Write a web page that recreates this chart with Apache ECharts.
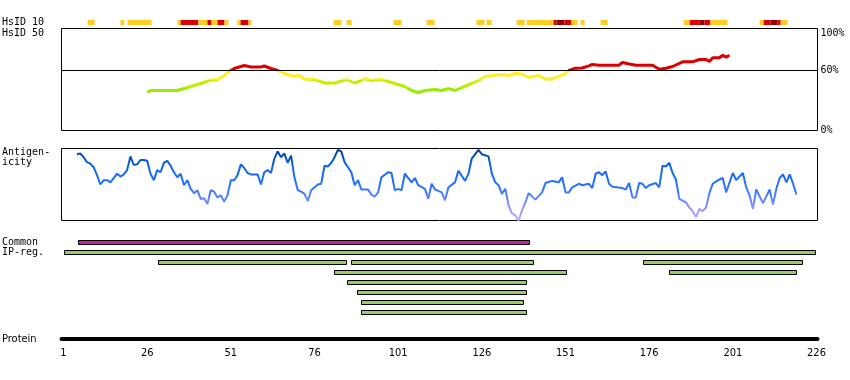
<!DOCTYPE html>
<html><head><meta charset="utf-8">
<script src="https://cdn.jsdelivr.net/npm/echarts@6/dist/echarts.min.js"></script>
<style>html,body{margin:0;padding:0;background:#fff}#c{width:850px;height:380px}</style>
</head><body><div id="c"></div>
<script>
// ---- data ----
const residueTicks = [1, 26, 51, 76, 101, 126, 151, 176, 201, 226];
const pctTicks = [0, 60, 100];

// HsID 10 band: segment start, end (residue), level (1 = >=10%, 2 = high, 3 = highest)
const hsid10Start = [8.2, 18.0, 20.1, 35.1, 36.0, 41.3, 44.0, 45.2, 47.0, 49.1, 53.0, 53.9, 56.3, 81.7, 85.6, 99.6, 109.5, 124.4, 127.4, 136.4, 139.4, 147.4, 148.3, 150.7, 152.8, 155.5, 161.5, 186.3, 188.1, 191.0, 192.5, 194.3, 209.0, 210.2, 212.3, 214.4, 215.3];
const hsid10End   = [10.3, 19.2, 27.3, 36.0, 41.3, 44.0, 45.2, 47.0, 49.1, 50.3, 53.9, 56.3, 57.2, 84.1, 87.1, 102.0, 111.9, 126.8, 128.9, 138.8, 147.4, 148.3, 150.7, 152.8, 154.6, 156.7, 163.6, 188.1, 191.0, 192.5, 194.3, 199.4, 210.2, 212.3, 214.4, 215.3, 217.3];
const hsid10Level = [1, 1, 1, 1, 2, 1, 2, 1, 2, 1, 1, 2, 1, 1, 1, 1, 1, 1, 1, 1, 1, 2, 3, 2, 1, 1, 1, 1, 2, 3, 2, 1, 1, 2, 3, 2, 1];

// HsID 50 curve (%)
const hsid50Pos = [26, 27, 30, 33, 35, 36, 38, 40, 41, 43, 45, 47, 48, 49, 50, 51, 52, 53, 55, 57, 60, 61, 63, 64, 65, 67, 70, 71, 73, 76, 77, 79, 82, 85, 86, 88, 90, 91, 93, 96, 98, 100, 103, 105, 107, 109, 112, 114, 116, 118, 120, 123, 125, 127, 129, 132, 134, 136, 138, 140, 143, 145, 147, 149, 151, 152, 154, 156, 158, 159, 161, 164, 167, 168, 170, 172, 175, 177, 179, 181, 183, 186, 189, 191, 193, 194, 195, 197, 198, 199, 200];
const hsid50Val = [38, 40, 40, 40, 40, 41, 43, 45, 46, 48, 50.5, 51, 53, 55, 58, 60, 62, 63, 65, 63.5, 63.5, 64.5, 62, 61, 60, 57, 54, 55.5, 51.5, 51, 50, 47.5, 47.5, 50.5, 50.5, 47.5, 50, 52, 50, 51, 49, 47, 44, 40, 38, 40, 41, 40, 42, 40, 43, 47, 50, 54, 55, 56, 55, 57, 56.5, 53, 55, 51.5, 51.5, 54, 57, 60, 62.3, 62.5, 64.7, 66, 65.3, 65.3, 65.3, 68, 66.5, 65.3, 65.3, 65.3, 61.3, 62.3, 64, 68.7, 68.7, 71, 71, 69, 72.7, 72.7, 75.3, 73.3, 75.3];

// Antigenicity (relative score 0-100)
const antiPos = [5, 6, 7, 8, 9, 10, 11, 12, 13, 14, 15, 16, 17, 18, 19, 20, 21, 22, 23, 24, 25, 26, 27, 28, 29, 30, 31, 32, 33, 34, 35, 36, 37, 38, 39, 40, 41, 42, 43, 44, 45, 46, 47, 48, 49, 50, 51, 52, 53, 54, 55, 56, 57, 59, 60, 61, 62, 63, 64, 65, 66, 67, 68, 69, 70, 71, 72, 73, 74, 75, 77, 78, 79, 80, 81, 82, 83, 84, 85, 87, 88, 89, 90, 92, 93, 94, 95, 96, 98, 99, 100, 101, 102, 103, 105, 106, 107, 109, 110, 111, 112, 114, 115, 116, 118, 119, 121, 122, 123, 125, 126, 128, 129, 130, 131, 132, 133, 134, 135, 136, 137, 138, 139, 140, 142, 144, 145, 147, 149, 150, 151, 152, 153, 155, 156, 158, 159, 160, 161, 162, 163, 164, 165, 168, 169, 170, 171, 172, 173, 174, 175, 176, 178, 179, 180, 181, 182, 183, 184, 185, 187, 188, 189, 190, 191, 192, 193, 194, 195, 197, 198, 199, 201, 202, 204, 205, 206, 207, 208, 210, 212, 213, 214, 215, 216, 217, 218, 219, 220];
const antiVal = [92, 93, 88, 81, 79, 74, 63, 50, 56, 56, 53, 59, 65, 61, 64, 70, 89, 77, 78, 84, 84, 83, 65, 56, 70, 67, 80, 83, 76, 67, 60, 65, 49, 56, 44, 38, 42, 30, 31, 23, 42, 40, 32, 35, 26, 35, 56, 56, 63, 78, 73, 66, 64, 64, 50, 67, 70, 66, 86, 96, 88, 93, 80, 90, 60, 42, 40, 37, 27, 42, 50, 51, 76, 75, 80, 88, 98, 96, 81, 67, 49, 56, 43, 43, 36, 33, 39, 60, 67, 66, 42, 44, 42, 65, 53, 59, 49, 44, 30, 51, 43, 39, 28, 46, 53, 69, 55, 65, 86, 98, 92, 89, 65, 53, 49, 37, 44, 21, 10, 7, 0, 14, 25, 38, 29, 39, 52, 55, 53, 60, 39, 39, 46, 51, 49, 51, 45, 65, 67, 63, 68, 51, 47, 45, 43, 52, 32, 32, 52, 51, 45, 49, 52, 46, 76, 75, 80, 66, 57, 30, 25, 18, 13, 5, 16, 13, 18, 38, 51, 57, 59, 39, 66, 56, 66, 46, 35, 16, 43, 24, 43, 22, 44, 59, 64, 53, 64, 51, 36];

// Regions: row 0 = Common, rows 1.. = IP-reg.
const regionRow   = [0, 1, 2, 2, 2, 3, 3, 4, 5, 6, 7];
const regionStart = [5.3, 1, 29.2, 86.8, 174.3, 81.8, 181.8, 85.6, 88.6, 89.8, 89.8];
const regionEnd   = [140.5, 226, 85.8, 141.7, 222.1, 151.3, 220.3, 139.6, 139.6, 138.5, 139.6];
const regionKind  = ['common', 'ip', 'ip', 'ip', 'ip', 'ip', 'ip', 'ip', 'ip', 'ip', 'ip'];

// ---- chart ----
const X_MIN = 0.4, X_MAX = 226.3;
const LEFT = 61.5, WIDTH = 756;
const mono = '"DejaVu Sans Mono", monospace';
const narrow = '"Liberation Sans Narrow", "DejaVu Sans Condensed", sans-serif';
const hsidColors = {1: '#ffcc22', 2: '#dd0000', 3: '#990000'};
const regionColors = {common: '#cc2299', ip: '#99cc66'};

function xAxisHidden(gi) {
  return {type: 'value', gridIndex: gi, min: X_MIN, max: X_MAX, show: false};
}

const chart = echarts.init(document.getElementById('c'), null, {renderer: 'canvas'});
chart.setOption({
  animation: false,
  backgroundColor: '#fff',
  grid: [
    {left: LEFT, width: WIDTH, top: 20, height: 5, show: false},
    {left: LEFT, width: WIDTH, top: 28.5, height: 102, show: true, borderColor: '#000', borderWidth: 1, backgroundColor: 'transparent'},
    {left: LEFT, width: WIDTH, top: 148.5, height: 72, show: true, borderColor: '#000', borderWidth: 1, backgroundColor: 'transparent'},
    {left: LEFT, width: WIDTH, top: 237.5, height: 80, show: false},
    {left: LEFT, width: WIDTH, top: 290, height: 49, show: false}
  ],
  xAxis: [
    xAxisHidden(0), xAxisHidden(1), xAxisHidden(2), xAxisHidden(3),
    {type: 'value', gridIndex: 4, min: X_MIN, max: X_MAX, position: 'bottom',
     axisLine: {show: true, lineStyle: {color: '#000', width: 4}},
     axisTick: {show: false}, splitLine: {show: false},
     axisLabel: {show: true, customValues: residueTicks, color: '#000', fontFamily: narrow, fontSize: 11, margin: 9,
                 formatter: v => String(v)}}
  ],
  yAxis: [
    {type: 'value', gridIndex: 0, min: 0, max: 1, show: false},
    {type: 'value', gridIndex: 1, min: 0, max: 102, position: 'right',
     axisLine: {show: false}, axisTick: {show: false}, splitLine: {show: false},
     axisLabel: {show: true, customValues: pctTicks, color: '#000', fontFamily: mono, fontSize: 10, margin: 3,
                 formatter: v => v === 100 ? '{a|100%}' : v + '%',
                 rich: {a: {fontFamily: mono, fontSize: 10, color: '#000', padding: [6, 0, 0, 0]}}}},
    {type: 'value', gridIndex: 2, min: 0, max: 100, show: false},
    {type: 'value', gridIndex: 3, min: 0, max: 8, inverse: true, show: false},
    {type: 'value', gridIndex: 4, min: 0, max: 1, show: false}
  ],
  visualMap: [
    {type: 'piecewise', show: false, seriesIndex: 1, dimension: 1,
     pieces: [
       {lt: 42, color: '#99ee00'},
       {gte: 42, lt: 47, color: '#bbee00'},
       {gte: 47, lt: 50, color: '#ccee00'},
       {gte: 50, lt: 60, color: '#ffee22'},
       {gte: 60, color: '#dd0000'}
     ]},
    {type: 'continuous', show: false, seriesIndex: 2, dimension: 1, min: 0, max: 100,
     inRange: {color: ['#bbaaff', '#9999ff', '#6688ff', '#3377ff', '#1a6dff', '#1466f0', '#0055cc', '#003f99']}}
  ],
  series: [
    {type: 'custom', xAxisIndex: 0, yAxisIndex: 0, silent: true,
     data: hsid10Start.map((s, i) => [s, hsid10End[i], hsid10Level[i]]),
     encode: {x: [0, 1]},
     renderItem: (params, api) => {
       const a = api.coord([api.value(0), 1]);
       const b = api.coord([api.value(1), 0]);
       return {type: 'rect', shape: {x: a[0], y: a[1], width: b[0] - a[0], height: b[1] - a[1]},
               style: {fill: hsidColors[api.value(2)]}};
     }},
    {type: 'line', xAxisIndex: 1, yAxisIndex: 1, silent: true, showSymbol: false, symbol: 'none',
     data: hsid50Pos.map((p, i) => [p, hsid50Val[i]]),
     lineStyle: {width: 3},
     markLine: {silent: true, symbol: 'none', label: {show: false},
                lineStyle: {color: '#000', width: 1, type: 'solid'},
                data: [{yAxis: 60}]}},
    {type: 'line', xAxisIndex: 2, yAxisIndex: 2, silent: true, showSymbol: false, symbol: 'none',
     data: antiPos.map((p, i) => [p, antiVal[i]]),
     lineStyle: {width: 2}},
    {type: 'custom', xAxisIndex: 3, yAxisIndex: 3, silent: true,
     data: regionStart.map((s, i) => [s, regionEnd[i], regionRow[i], i]),
     encode: {x: [0, 1]},
     renderItem: (params, api) => {
       const a = api.coord([api.value(0), api.value(2) + 0.5]);
       const b = api.coord([api.value(1), api.value(2) + 0.5]);
       const x0 = Math.round(a[0]) + 0.5, x1 = Math.round(b[0]) - 0.5;
       return {type: 'rect', shape: {x: x0, y: a[1] - 2, width: x1 - x0, height: 4},
               style: {fill: regionColors[regionKind[api.value(3)]], stroke: '#000', lineWidth: 1}};
     }}
  ],
  graphic: [
    {type: 'text', left: 2, top: 17, style: {text: 'HsID 10', font: '10px ' + mono, fill: '#000'}},
    {type: 'text', left: 2, top: 28, style: {text: 'HsID 50', font: '10px ' + mono, fill: '#000'}},
    {type: 'text', left: 2, top: 147, style: {text: 'Antigen-\nicity', font: '10px ' + mono, fill: '#000', lineHeight: 10}},
    {type: 'text', left: 2, top: 237, style: {text: 'Common', font: '10px ' + mono, fill: '#000'}},
    {type: 'text', left: 2, top: 247, style: {text: 'IP-reg.', font: '10px ' + mono, fill: '#000'}},
    {type: 'text', left: 2, top: 334, style: {text: 'Protein', font: '11px ' + narrow, fill: '#000'}}
  ]
});
</script>
</body></html>
